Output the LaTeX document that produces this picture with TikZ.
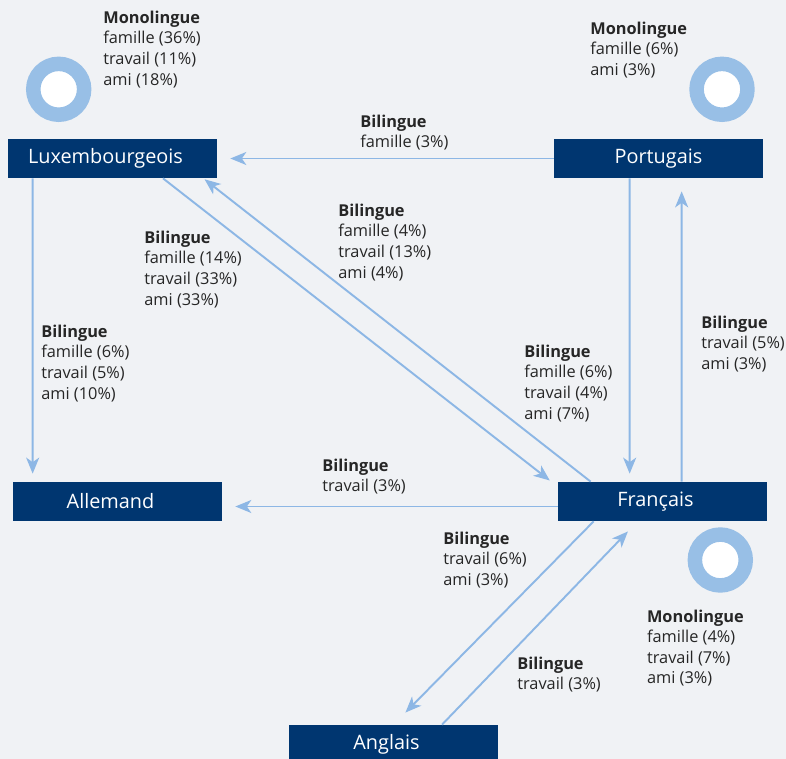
\documentclass[tikz,border=0pt]{standalone}
\usepackage{fontspec}
\setmainfont{Open Sans}
\usetikzlibrary{arrows.meta}
\definecolor{bleufonce}{HTML}{003670}
\definecolor{bleuclair}{HTML}{8DB7E5}
\definecolor{bleuanneau}{HTML}{98BFE6}
\definecolor{fond}{HTML}{F0F2F5}
\definecolor{texte}{HTML}{262626}

\begin{document}
\begin{tikzpicture}[x=0.02cm,y=-0.02cm,
  langue/.style={fill=bleufonce,text=white,minimum width=4.18cm,minimum height=0.78cm,inner sep=0pt,font=\fontsize{11.3}{13}\selectfont},
  decale/.style={execute at end node={\hspace*{0.28cm}}},
  fleche/.style={bleuclair,line width=1.1pt,-{Stealth[length=0.32cm,width=0.26cm,inset=0.09cm]}},
  info/.style={anchor=north west,align=left,inner sep=0pt,text=texte,font=\fontsize{9.3}{11.74}\selectfont},
  anneau/.style={circle,draw=bleuanneau,line width=0.29cm,fill=white,minimum size=1.018cm,inner sep=0pt}]
  \useasboundingbox (0,0) rectangle (786,759);
  \fill[fond] (0,0) rectangle (786,759);
  % ============ LANGUES ============
  \node[langue,decale] (lux) at (112.5,158.5) {Luxembourgeois};
  \node[langue] (port) at (658.5,158.5) {Portugais};
  \node[langue,decale] (fr) at (662.5,501.5) {Français};
  \node[langue,decale] (all) at (117.5,501.5) {Allemand};
  \node[langue,decale] (ang) at (393.5,744.5) {Anglais};
  % ============ MONOLINGUE (anneaux) ============
  \node[anneau] (anlux) at (58.7,89.3) {};
  \node[anneau] (anport) at (722,89.3) {};
  \node[anneau] (anfr) at (720.3,560) {};
  \node[info] (monolux) at (103,10.6) {\textbf{Monolingue}\\famille (36\%)\\travail (11\%)\\ami (18\%)};
  \node[info] (monoport) at (590,21.6) {\textbf{Monolingue}\\famille (6\%)\\ami (3\%)};
  \node[info] (monofr) at (646.7,609.3) {\textbf{Monolingue}\\famille (4\%)\\travail (7\%)\\ami (3\%)};
  % ============ BILINGUE (fleches) ============
  % portugais -> luxembourgeois
  \draw[fleche,shorten >=0.26cm] (port.west) -- (lux.east);
  \node[info] (biportlux) at (360,114.6) {\textbf{Bilingue}\\famille (3\%)};
  % luxembourgeois -> allemand
  \draw[fleche,shorten >=0.16cm] ([xshift=0.5cm]lux.south west) -- ([xshift=0.4cm]all.north west);
  \node[info] (biluxall) at (41,324.6) {\textbf{Bilingue}\\famille (6\%)\\travail (5\%)\\ami (10\%)};
  % luxembourgeois -> francais
  \draw[fleche,shorten >=0.2cm] ([xshift=1.01cm]lux.south) -- ([yshift=-0.1cm]fr.north west);
  \node[info] (biluxfr) at (144,230.6) {\textbf{Bilingue}\\famille (14\%)\\travail (33\%)\\ami (33\%)};
  % francais -> luxembourgeois
  \draw[fleche,shorten >=0.03cm] ([xshift=0.66cm]fr.north west) -- ([xshift=-0.28cm]lux.south east);
  \node[info] (bifrlux) at (338,203.6) {\textbf{Bilingue}\\famille (4\%)\\travail (13\%)\\ami (4\%)};
  % portugais -> francais
  \draw[fleche,shorten >=0.16cm] ([xshift=1.52cm]port.south west) -- ([xshift=1.44cm]fr.north west);
  \node[info] (biportfr) at (524,344.6) {\textbf{Bilingue}\\famille (6\%)\\travail (4\%)\\ami (7\%)};
  % francais -> portugais
  \draw[fleche,shorten >=0.26cm] ([xshift=2.48cm]fr.north west) -- ([xshift=2.56cm]port.south west);
  \node[info] (bifrport) at (701,315.6) {\textbf{Bilingue}\\travail (5\%)\\ami (3\%)};
  % francais -> allemand
  \draw[fleche,shorten >=0.26cm] ([yshift=-0.1cm]fr.west) -- ([yshift=-0.1cm]all.east);
  \node[info] (bifrall) at (322,458.6) {\textbf{Bilingue}\\travail (3\%)};
  % francais -> anglais
  \draw[fleche,shorten >=0.34cm] ([xshift=0.72cm]fr.south west) -- (ang.north);
  \node[info] (bifrang) at (443,531.6) {\textbf{Bilingue}\\travail (6\%)\\ami (3\%)};
  % anglais -> francais
  \draw[fleche,shorten >=0.28cm] ([xshift=0.97cm]ang.north) -- ([xshift=1.6cm]fr.south west);
  \node[info] (biangfr) at (517,656.6) {\textbf{Bilingue}\\travail (3\%)};
\end{tikzpicture}
\end{document}
